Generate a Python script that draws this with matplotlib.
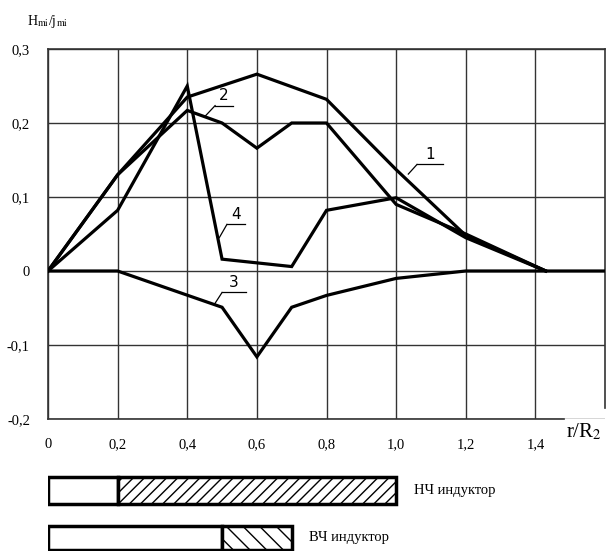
import matplotlib
matplotlib.use("Agg")
import matplotlib.pyplot as plt
from matplotlib import rcParams

config = {
    "font.family": ["Liberation Serif", "DejaVu Serif"],
    "mathtext.fontset": "stix",
    "axes.unicode_minus": False,
    "hatch.linewidth": 1.0,
}
rcParams.update(config)

# кривые H_mi/j_mi от r/R2
x1 = [0, 0.2, 0.4, 0.6, 0.8, 1.0, 1.2, 1.43]
y1 = [0, 0.13, 0.235, 0.266, 0.232, 0.137, 0.048, 0]

x2 = [0, 0.2, 0.4, 0.5, 0.6, 0.7, 0.8, 1.0, 1.2, 1.43]
y2 = [0, 0.13, 0.217, 0.2, 0.166, 0.2, 0.2, 0.09, 0.05, 0]

x3 = [0, 0.2, 0.5, 0.6, 0.7, 0.8, 1.0, 1.2, 1.6]
y3 = [0, 0, -0.049, -0.116, -0.049, -0.033, -0.01, 0, 0]

x4 = [0, 0.2, 0.4, 0.5, 0.7, 0.8, 1.0, 1.2, 1.43]
y4 = [0, 0.082, 0.25, 0.016, 0.006, 0.082, 0.099, 0.045, 0]

xticks = [0, 0.2, 0.4, 0.6, 0.8, 1.0, 1.2, 1.4]
xticklabels = ["0", "0,2", "0,4", "0,6", "0,8", "1,0", "1,2", "1,4"]
yticks = [-0.2, -0.1, 0, 0.1, 0.2, 0.3]
yticklabels = ["-0,2", "-0,1", "0", "0,1", "0,2", "0,3"]

# индукторы: (начало, конец белой части, конец штриховки)
lf_ind = [0, 0.2, 1.0]
hf_ind = [0, 0.5, 0.7]

fig = plt.figure(figsize=(6.11, 5.51), dpi=100)
ax = fig.add_axes([48 / 611, 1 - 419 / 551, 557 / 611, 370 / 551])

for xs, ys in [(x1, y1), (x2, y2), (x3, y3), (x4, y4)]:
    ax.plot(xs, ys, color="black", lw=2.3, solid_joinstyle="miter", zorder=3)

ax.set_xlim(0, 1.6)
ax.set_ylim(-0.2, 0.3)
ax.set_xticks(xticks)
ax.set_xticklabels(xticklabels, fontsize=10.5)
ax.set_yticks(yticks)
ax.set_yticklabels(yticklabels, fontsize=10.5)
ax.tick_params(axis="x", length=0, pad=14)
ax.tick_params(axis="y", length=0, pad=13)
ax.grid(True, color="#333333", lw=1.0)
for s in ax.spines.values():
    s.set_color("#333333")
    s.set_linewidth(1.2)
ax.spines["bottom"].set_bounds(0, 1.483)
ax.spines["right"].set_bounds(-0.185, 0.3)

# подписи кривых
labels = [("1", 1.06, 1.136, 0.144, 1.035, 0.131),
          ("2", 0.48, 0.532, 0.2235, 0.451, 0.209),
          ("4", 0.514, 0.566, 0.063, 0.492, 0.045),
          ("3", 0.50, 0.569, -0.029, 0.478, -0.045)]
for t, xa, xb, yl, xe, ye in labels:
    ax.plot([xa, xb], [yl, yl], color="black", lw=0.9, zorder=4)
    ax.plot([xa, xe], [yl, ye], color="black", lw=0.9, zorder=4)
    ax.text((xa + xb) / 2, yl + 0.003, t, ha="center", va="bottom",
            fontsize=11, family="DejaVu Sans", zorder=4)

fig.text(27 / 611, 1 - 21 / 551, r"H$_{\mathrm{mi}}$/j$_{\mathrm{mi}}$",
         fontsize=10, ha="left", va="center")
fig.text(566 / 611, 1 - 432 / 551, r"r/R$_2$", fontsize=15, ha="left", va="center")

# индукторы внизу
ax2 = fig.add_axes([48 / 611, 0, 557 / 611, 85 / 551])
ax2.set_xlim(0, 1.6)
ax2.set_ylim(0, 85)
ax2.axis("off")
for ind, y0, h, hatch, name in [(lf_ind, 47, 27, "///", "НЧ индуктор"),
                                (hf_ind, 1, 24, "\\\\", "ВЧ индуктор")]:
    ax2.barh(y0 + h / 2, ind[1] - ind[0], left=ind[0], height=h,
             facecolor="white", edgecolor="black", lw=2.5)
    ax2.barh(y0 + h / 2, ind[2] - ind[1], left=ind[1], height=h,
             facecolor="white", edgecolor="black", lw=2.5, hatch=hatch)
    ax2.text(ind[2] + 0.05, y0 + h / 2, name, fontsize=10.5, ha="left", va="center")

plt.savefig("out.png", dpi=100)
